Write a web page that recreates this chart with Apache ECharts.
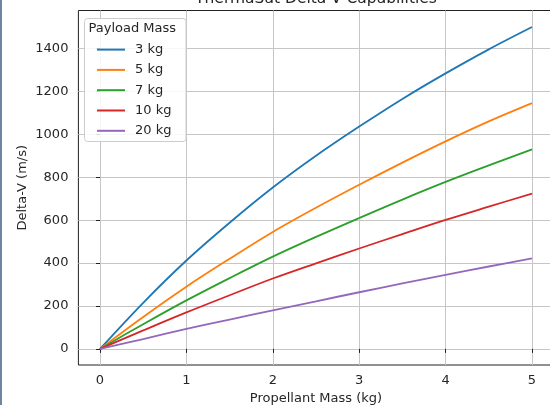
<!DOCTYPE html>
<html><head><meta charset="utf-8">
<script src="https://cdn.jsdelivr.net/npm/echarts@6/dist/echarts.min.js"></script>
<style>html,body{margin:0;padding:0;background:#fff}#c{width:550px;height:405px}</style>
</head><body><div id="c"></div>
<script>
const propellant = [0, 0.5, 1, 1.5, 2, 2.5, 3, 3.5, 4, 4.5, 5];
const payloadLabels = ['3 kg', '5 kg', '7 kg', '10 kg', '20 kg'];
const dv3kg  = [0, 215, 412, 588, 752, 900, 1036, 1165, 1284, 1396, 1500];
const dv5kg  = [0, 149, 290, 420, 545, 658, 765, 868, 967, 1060, 1145];
const dv7kg  = [0, 115, 226, 330, 430, 522, 610, 696, 778, 855, 930];
const dv10kg = [0, 86, 170, 250, 328, 399, 468, 535, 601, 663, 724];
const dv20kg = [0, 46, 93, 137, 180, 222, 264, 305, 345, 384, 422];
const xTicks = [0, 1, 2, 3, 4, 5];
const yTicks = [0, 200, 400, 600, 800, 1000, 1200, 1400];
const colors = ['#1f77b4', '#ff7f0e', '#2ca02c', '#d62728', '#9467bd'];

const allSeries = [dv3kg, dv5kg, dv7kg, dv10kg, dv20kg];
const FONT = 'DejaVu Sans';
const TXT = '#262626';
const FS = 13;

const chart = echarts.init(document.getElementById('c'), null, {renderer: 'canvas'});
chart.setOption({
  animation: false,
  textStyle: {fontFamily: FONT},
  title: {
    text: 'ThermaSat Delta-V Capabilities',
    left: 316, top: -9, textAlign: 'center', padding: 0,
    textStyle: {fontFamily: FONT, fontSize: 15.5, fontWeight: 'normal', color: TXT}
  },
  grid: {
    left: 78.4, top: 10.5, right: -3.6, bottom: 40,
    show: true, borderColor: '#222', borderWidth: 1, backgroundColor: 'transparent',
    outerBoundsMode: 'none', containLabel: false
  },
  legend: {
    orient: 'vertical', left: 97, top: 39.6, padding: 0, itemGap: 0.3,
    itemWidth: 28, itemHeight: 2, icon: 'rect', selectedMode: false, z: 5,
    data: payloadLabels,
    textStyle: {fontFamily: FONT, fontSize: FS, color: TXT, lineHeight: 20, padding: [0, 0, 0, 5]}
  },
  graphic: [
    {type: 'rect', z: 3, shape: {x: 84.5, y: 18.5, width: 101.5, height: 123, r: 3},
     style: {fill: 'rgba(255,255,255,0.85)', stroke: '#cccccc', lineWidth: 1}},
    {type: 'text', z: 5, x: 88.5, y: 28.6,
     style: {text: 'Payload Mass', fontFamily: FONT, fontSize: FS, fill: TXT, verticalAlign: 'middle'}},
    {type: 'rect', z: 10, shape: {x: 0, y: 0, width: 2, height: 405}, style: {fill: '#7282a3'}}
  ],
  xAxis: {
    type: 'value', min: -0.25, max: 5.25,
    name: 'Propellant Mass (kg)', nameLocation: 'middle', nameGap: 27, nameMoveOverlap: false,
    nameTextStyle: {fontFamily: FONT, fontSize: FS, color: TXT},
    axisLine: {show: false},
    axisTick: {show: true, length: 4, lineStyle: {color: '#222', width: 1}, customValues: xTicks},
    axisLabel: {fontFamily: FONT, fontSize: FS, color: TXT, margin: 9, customValues: xTicks,
                formatter: v => String(v)},
    splitLine: {show: true, lineStyle: {color: '#c6c6c6', width: 1}}
  },
  yAxis: {
    type: 'value', min: -75, max: 1577,
    name: 'Delta-V (m/s)', nameLocation: 'middle', nameGap: 49, nameRotate: 90, nameMoveOverlap: false,
    nameTextStyle: {fontFamily: FONT, fontSize: FS, color: TXT},
    axisLine: {show: false},
    axisTick: {show: true, length: 4, lineStyle: {color: '#222', width: 1}, customValues: yTicks},
    axisLabel: {fontFamily: FONT, fontSize: FS, color: TXT, margin: 10, customValues: yTicks,
                formatter: v => String(v)},
    splitLine: {show: true, lineStyle: {color: '#c6c6c6', width: 1}}
  },
  series: allSeries.map((vals, i) => ({
    name: payloadLabels[i], type: 'line', smooth: 0.35,
    showSymbol: false, symbol: 'none', color: colors[i],
    lineStyle: {width: 1.8, color: colors[i]},
    data: propellant.map((x, j) => [x, vals[j]])
  }))
});
</script></body></html>
